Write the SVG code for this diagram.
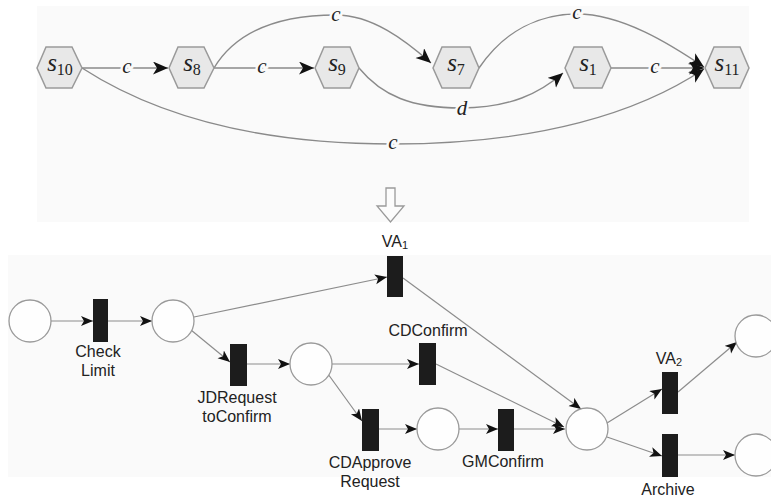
<svg xmlns="http://www.w3.org/2000/svg" width="771" height="501" viewBox="0 0 771 501">
<style>
.bg{fill:#fafafa}
.hex{fill:#e8e8e8;stroke:#9a9a9a;stroke-width:1.5}
.st{font-family:"Liberation Serif",serif;font-size:25px;fill:#222}
.sub{font-size:16px;font-style:normal}
.e{fill:none;stroke:#8a8a8a;stroke-width:1.4}
.el{font-family:"Liberation Serif",serif;font-style:italic;font-size:21px;fill:#222;text-anchor:middle;stroke:#fafafa;stroke-width:5;paint-order:stroke}
.pe{fill:none;stroke:#8c8c8c;stroke-width:1.2}
.pl{fill:#fefefe;stroke:#9a9a9a;stroke-width:1.3}
.tr{fill:#1c1c1c}
.lb{font-family:"Liberation Sans",Arial,sans-serif;font-size:16px;fill:#222;text-anchor:middle}
</style>
<defs>
<marker id="ah" markerUnits="userSpaceOnUse" markerWidth="16" markerHeight="14" refX="15" refY="6.5" orient="auto">
<path d="M0,0 L15,6.5 L0,13 L4,6.5 z" fill="#111"/>
</marker>
<marker id="ap" markerUnits="userSpaceOnUse" markerWidth="13" markerHeight="11" refX="12" refY="5" orient="auto">
<path d="M0,0 L12,5 L0,10 L3,5 z" fill="#111"/>
</marker>
</defs>
<rect class="bg" x="37" y="6" width="712" height="216"/>
<rect class="bg" x="8" y="255" width="763" height="222"/>

<g id="connectors-top">
<path class="e" d="M82,68 L168,68" marker-end="url(#ah)"/>
<path class="e" d="M214,68 L314,68" marker-end="url(#ah)"/>
<path class="e" d="M214,68 C240,25 290,15 336,15 C372,15 405,40 431,63" marker-end="url(#ah)"/>
<path class="e" d="M359,68 C382,96 412,108 461,108 C510,108 540,93 563,73" marker-end="url(#ah)"/>
<path class="e" d="M479,68 C505,30 540,14 577,14 C622,14 670,44 704,67" marker-end="url(#ah)"/>
<path class="e" d="M611,68 L704,68" marker-end="url(#ah)"/>
<path class="e" d="M82,68 C150,112 250,144 393,144 C540,144 640,112 704,69" marker-end="url(#ah)"/>
<text class="el" x="127" y="73">c</text>
<text class="el" x="262" y="73">c</text>
<text class="el" x="336" y="21">c</text>
<text class="el" x="462" y="115">d</text>
<text class="el" x="577" y="19">c</text>
<text class="el" x="655" y="73">c</text>
<text class="el" x="393" y="149">c</text>
</g>

<g id="s10"><polygon class="hex" points="37,68 46,47 72,47 82,68 72,88 46,88"/><text class="st" x="60" y="71" text-anchor="middle"><tspan font-style="italic">s</tspan><tspan class="sub" dy="4">10</tspan></text></g>
<g id="s8"><polygon class="hex" points="169,68 178,47 204,47 214,68 204,88 178,88"/><text class="st" x="192" y="71" text-anchor="middle"><tspan font-style="italic">s</tspan><tspan class="sub" dy="4">8</tspan></text></g>
<g id="s9"><polygon class="hex" points="315,68 324,47 350,47 359,68 350,88 324,88"/><text class="st" x="337" y="71" text-anchor="middle"><tspan font-style="italic">s</tspan><tspan class="sub" dy="4">9</tspan></text></g>
<g id="s7"><polygon class="hex" points="433,68 442,47 470,47 479,68 470,88 442,88"/><text class="st" x="456" y="71" text-anchor="middle"><tspan font-style="italic">s</tspan><tspan class="sub" dy="4">7</tspan></text></g>
<g id="s1"><polygon class="hex" points="565,68 574,47 602,47 611,68 602,88 574,88"/><text class="st" x="588" y="71" text-anchor="middle"><tspan font-style="italic">s</tspan><tspan class="sub" dy="4">1</tspan></text></g>
<g id="s11"><polygon class="hex" points="705,68 714,47 740,47 749,68 740,88 714,88"/><text class="st" x="727" y="71" text-anchor="middle"><tspan font-style="italic">s</tspan><tspan class="sub" dy="4">11</tspan></text></g>

<g id="transform-arrow"><path d="M386,188 L395,188 L395,206 L404,206 L390.5,222 L377,206 L386,206 Z" fill="#fcfcfc" stroke="#9a9a9a" stroke-width="1.3"/></g>

<g id="connectors-net">
<path class="pe" d="M51,321 L93,321" marker-end="url(#ap)"/>
<path class="pe" d="M108,321 L152,321" marker-end="url(#ap)"/>
<path class="pe" d="M194,317 L387,277" marker-end="url(#ap)"/>
<path class="pe" d="M191,330 L230,362" marker-end="url(#ap)"/>
<path class="pe" d="M247,364 L290,364" marker-end="url(#ap)"/>
<path class="pe" d="M332,364 L419,364" marker-end="url(#ap)"/>
<path class="pe" d="M328,374 L362,421" marker-end="url(#ap)"/>
<path class="pe" d="M379,429 L417,429" marker-end="url(#ap)"/>
<path class="pe" d="M459,429 L498,429" marker-end="url(#ap)"/>
<path class="pe" d="M514,429 L565,429" marker-end="url(#ap)"/>
<path class="pe" d="M436,364 L564,427" marker-end="url(#ap)"/>
<path class="pe" d="M403,278 L581,409" marker-end="url(#ap)"/>
<path class="pe" d="M607,423 L662,389" marker-end="url(#ap)"/>
<path class="pe" d="M607,437 L662,456" marker-end="url(#ap)"/>
<path class="pe" d="M678,392 L737,342" marker-end="url(#ap)"/>
<path class="pe" d="M678,455 L735,455" marker-end="url(#ap)"/>
</g>

<g id="p1"><circle class="pl" cx="30" cy="321" r="21"/></g>
<g id="checklimit"><rect class="tr" x="93" y="299" width="15" height="43"/><text class="lb" x="98" y="357">Check</text><text class="lb" x="98" y="376">Limit</text></g>
<g id="p2"><circle class="pl" cx="173" cy="321" r="21"/></g>
<g id="va1"><rect class="tr" x="387" y="256" width="16" height="41"/><text class="lb" x="395" y="247">VA<tspan font-size="11" dy="2">1</tspan></text></g>
<g id="jdrequest"><rect class="tr" x="230" y="344" width="17" height="42"/><text class="lb" x="237" y="403">JDRequest</text><text class="lb" x="237" y="422">toConfirm</text></g>
<g id="p3"><circle class="pl" cx="311" cy="364" r="21"/></g>
<g id="cdconfirm"><rect class="tr" x="419" y="343" width="17" height="42"/><text class="lb" x="428" y="336">CDConfirm</text></g>
<g id="cdapprove"><rect class="tr" x="362" y="409" width="17" height="42"/><text class="lb" x="370" y="468">CDApprove</text><text class="lb" x="370" y="487">Request</text></g>
<g id="p4"><circle class="pl" cx="438" cy="429" r="21"/></g>
<g id="gmconfirm"><rect class="tr" x="498" y="409" width="16" height="42"/><text class="lb" x="503" y="467">GMConfirm</text></g>
<g id="p5"><circle class="pl" cx="587" cy="429" r="21"/></g>
<g id="va2"><rect class="tr" x="662" y="372" width="16" height="42"/><text class="lb" x="669" y="364">VA<tspan font-size="11" dy="2">2</tspan></text></g>
<g id="archive"><rect class="tr" x="662" y="434" width="16" height="43"/><text class="lb" x="668" y="495">Archive</text></g>
<g id="p6"><circle class="pl" cx="756" cy="336" r="21"/></g>
<g id="p7"><circle class="pl" cx="756" cy="455" r="21"/></g>
</svg>
